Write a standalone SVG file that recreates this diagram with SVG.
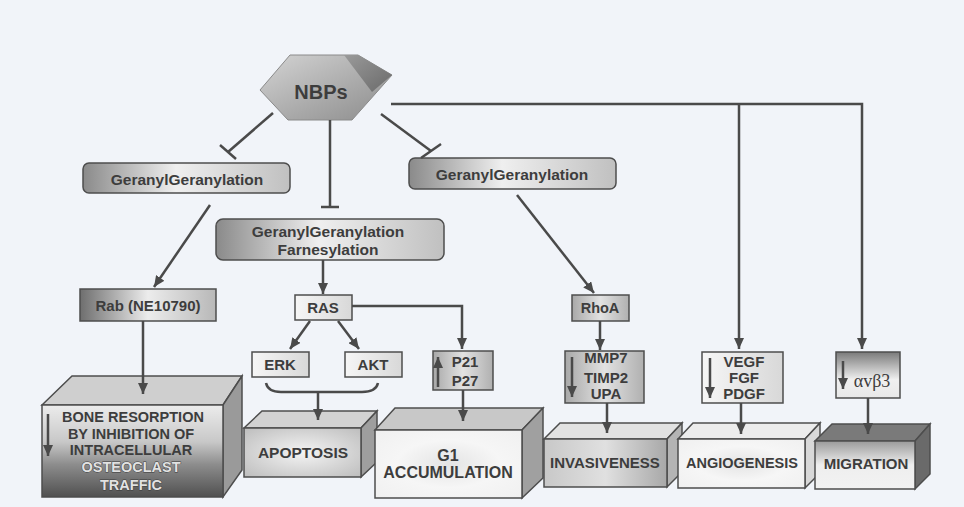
<svg xmlns="http://www.w3.org/2000/svg" width="964" height="507" viewBox="0 0 964 507">
<defs>
<style>
.c{stroke:#4a4a4a;stroke-width:2.5;fill:none}
.a{marker-end:url(#ah)}
.t{font-family:"Liberation Sans",Arial,sans-serif;font-weight:bold;fill:#3d3d3d;text-anchor:middle}
.bx{stroke:#4d4d4d;stroke-width:1.5}
.lt{fill:#e2e2e2;stroke:#3a3a3a;stroke-width:0.9;paint-order:stroke}
</style>
<marker id="ah" markerUnits="userSpaceOnUse" markerWidth="12" markerHeight="10" refX="11" refY="5" orient="auto">
<path d="M0,0 L11,5 L0,10 z" fill="#4a4a4a"/>
</marker>
<linearGradient id="gGG" x1="0" y1="0" x2="1" y2="0">
<stop offset="0" stop-color="#8a8a8a"/><stop offset="0.45" stop-color="#efefef"/><stop offset="1" stop-color="#c0c0c0"/>
</linearGradient>
<linearGradient id="gDark" x1="0" y1="0" x2="1" y2="0">
<stop offset="0" stop-color="#6e6e6e"/><stop offset="0.5" stop-color="#ececec"/><stop offset="1" stop-color="#b8b8b8"/>
</linearGradient>
<linearGradient id="gLight" x1="0" y1="0" x2="1" y2="0">
<stop offset="0" stop-color="#f6f6f6"/><stop offset="1" stop-color="#d8d8d8"/>
</linearGradient>
<linearGradient id="gMid" x1="0" y1="0" x2="1" y2="0">
<stop offset="0" stop-color="#a8a8a8"/><stop offset="0.5" stop-color="#e2e2e2"/><stop offset="1" stop-color="#b0b0b0"/>
</linearGradient>
<linearGradient id="gAvb" x1="0" y1="0" x2="0" y2="1">
<stop offset="0" stop-color="#7a7a7a"/><stop offset="0.6" stop-color="#f0f0f0"/><stop offset="1" stop-color="#e8e8e8"/>
</linearGradient>
<linearGradient id="gHex" x1="0" y1="0" x2="1" y2="1">
<stop offset="0" stop-color="#d4d4d4"/><stop offset="0.6" stop-color="#a8a8a8"/><stop offset="1" stop-color="#8c8c8c"/>
</linearGradient>
<linearGradient id="gHexSide" x1="0" y1="0" x2="1" y2="1">
<stop offset="0" stop-color="#9a9a9a"/><stop offset="1" stop-color="#6a6a6a"/>
</linearGradient>
<linearGradient id="gBone" x1="0" y1="0" x2="0" y2="1">
<stop offset="0" stop-color="#ececec"/><stop offset="0.4" stop-color="#c8c8c8"/><stop offset="0.65" stop-color="#8c8c8c"/><stop offset="1" stop-color="#505050"/>
</linearGradient>
<radialGradient id="gFront" cx="0.5" cy="0.5" r="0.7">
<stop offset="0" stop-color="#f4f4f4"/><stop offset="1" stop-color="#bdbdbd"/>
</radialGradient>
<radialGradient id="gWhite" cx="0.5" cy="0.5" r="0.7">
<stop offset="0" stop-color="#e4e4e4"/><stop offset="0.5" stop-color="#f6f6f6"/><stop offset="1" stop-color="#f0f0f0"/>
</radialGradient>
<linearGradient id="gInv" x1="0" y1="0" x2="1" y2="0">
<stop offset="0" stop-color="#c8c8c8"/><stop offset="0.5" stop-color="#e0e0e0"/><stop offset="1" stop-color="#a8a8a8"/>
</linearGradient>
<linearGradient id="gMig" x1="0" y1="0" x2="0" y2="1">
<stop offset="0" stop-color="#9a9a9a"/><stop offset="0.5" stop-color="#eeeeee"/><stop offset="1" stop-color="#f2f2f2"/>
</linearGradient>
</defs>

<rect x="0" y="0" width="964" height="507" fill="#f1f4f9"/>

<g id="nbps">
<polygon points="260,90 290,55 358,55 392,75 352,120 288,120" fill="url(#gHex)" stroke="#8a8a8a" stroke-width="1"/>
<polygon points="344,55 358,55 392,75 372,92" fill="url(#gHexSide)"/>
<text class="t" x="321" y="99" font-size="20">NBPs</text>
</g>

<g id="gg-left">
<rect class="bx" x="83" y="163" width="207" height="30" rx="6" fill="url(#gGG)"/>
<text class="t" x="187" y="185" font-size="15.5">GeranylGeranylation</text>
</g>

<g id="gg-center">
<rect class="bx" x="216" y="219" width="228" height="41" rx="7" fill="url(#gGG)"/>
<text class="t" x="328" y="237" font-size="15.5">GeranylGeranylation</text>
<text class="t" x="328" y="255" font-size="15.5">Farnesylation</text>
</g>

<g id="gg-right">
<rect class="bx" x="409" y="158" width="207" height="31" rx="6" fill="url(#gGG)"/>
<text class="t" x="512" y="180" font-size="15.5">GeranylGeranylation</text>
</g>

<g id="rab">
<rect class="bx" x="80" y="289" width="136" height="32" fill="url(#gDark)"/>
<text class="t" x="148" y="311" font-size="15">Rab (NE10790)</text>
</g>

<g id="ras">
<rect class="bx" x="295" y="295" width="57" height="25" fill="url(#gLight)"/>
<text class="t" x="323" y="313" font-size="15">RAS</text>
</g>

<g id="erk">
<rect class="bx" x="252" y="352" width="57" height="25" fill="url(#gLight)"/>
<text class="t" x="280" y="370" font-size="15">ERK</text>
</g>

<g id="akt">
<rect class="bx" x="345" y="352" width="57" height="25" fill="url(#gLight)"/>
<text class="t" x="373" y="370" font-size="15">AKT</text>
</g>

<g id="p21">
<rect class="bx" x="433" y="351" width="60" height="39" fill="url(#gMid)"/>
<line class="c a" x1="438" y1="387" x2="438" y2="357"/>
<text class="t" x="465" y="367" font-size="15">P21</text>
<text class="t" x="465" y="386" font-size="15">P27</text>
</g>

<g id="rhoa">
<rect class="bx" x="572" y="295" width="57" height="26" fill="url(#gMid)"/>
<text class="t" x="600" y="313" font-size="14.5">RhoA</text>
</g>

<g id="mmp">
<rect class="bx" x="565" y="351" width="79" height="52" fill="url(#gMid)"/>
<line class="c a" x1="572" y1="357" x2="572" y2="397"/>
<text class="t" x="606" y="363" font-size="15">MMP7</text>
<text class="t" x="606" y="383" font-size="15">TIMP2</text>
<text class="t" x="606" y="399" font-size="15">UPA</text>
</g>

<g id="vegf">
<rect class="bx" x="702" y="352" width="81" height="51" fill="url(#gLight)"/>
<line class="c a" x1="710" y1="358" x2="710" y2="398"/>
<text class="t" x="744" y="367" font-size="15">VEGF</text>
<text class="t" x="744" y="383" font-size="15">FGF</text>
<text class="t" x="744" y="399" font-size="15">PDGF</text>
</g>

<g id="avb3">
<rect class="bx" x="836" y="352" width="64" height="46" fill="url(#gAvb)"/>
<line class="c a" x1="843" y1="361" x2="843" y2="389"/>
<text x="872" y="387" font-size="18" text-anchor="middle" fill="#3d3d3d" font-family="'Liberation Serif','Times New Roman',serif">αvβ3</text>
</g>

<g id="bone">
<polygon class="bx" points="42,405 72,376 242,376 223,405" fill="#cfcfcf"/>
<polygon class="bx" points="223,405 242,376 242,470 223,497" fill="#9a9a9a"/>
<rect class="bx" x="42" y="405" width="181" height="92" fill="url(#gBone)"/>
<line class="c a" x1="48" y1="414" x2="48" y2="456"/>
<text class="t" x="133" y="422" font-size="14.5">BONE RESORPTION</text>
<text class="t" x="131" y="439" font-size="14.5">BY INHIBITION OF</text>
<text class="t" x="131" y="455" font-size="14.5">INTRACELLULAR</text>
<text class="t lt" x="131" y="472" font-size="14.5">OSTEOCLAST</text>
<text class="t lt" x="131" y="490" font-size="14.5">TRAFFIC</text>
</g>

<g id="apoptosis">
<polygon class="bx" points="244,428 262,411 377,411 361,428" fill="#d2d2d2"/>
<polygon class="bx" points="361,428 377,411 377,462 361,477" fill="#9e9e9e"/>
<rect class="bx" x="244" y="428" width="117" height="49" fill="url(#gFront)"/>
<text class="t" x="303" y="458" font-size="15.5">APOPTOSIS</text>
</g>

<g id="g1">
<polygon class="bx" points="375,430 395,408 543,408 522,430" fill="#c8c8c8"/>
<polygon class="bx" points="522,430 543,408 543,478 522,498" fill="#a0a0a0"/>
<rect class="bx" x="375" y="430" width="147" height="68" fill="url(#gWhite)"/>
<text class="t" x="448" y="461" font-size="16">G1</text>
<text class="t" x="448" y="478" font-size="16">ACCUMULATION</text>
</g>

<g id="invasiveness">
<polygon class="bx" points="544,439 560,423 682,423 667,439" fill="#e2e2e2"/>
<polygon class="bx" points="667,439 682,423 682,472 667,487" fill="#b4b4b4"/>
<rect class="bx" x="544" y="439" width="123" height="48" fill="url(#gInv)"/>
<text class="t" x="605" y="468" font-size="15">INVASIVENESS</text>
</g>

<g id="angiogenesis">
<polygon class="bx" points="678,439 693,423 820,423 805,439" fill="#ececec"/>
<polygon class="bx" points="805,439 820,423 820,473 805,488" fill="#d8d8d8"/>
<rect class="bx" x="678" y="439" width="127" height="49" fill="url(#gWhite)"/>
<text class="t" x="742" y="468" font-size="14.5">ANGIOGENESIS</text>
</g>

<g id="migration">
<polygon class="bx" points="815,441 832,424 930,424 915,441" fill="#7a7a7a"/>
<polygon class="bx" points="915,441 930,424 930,474 915,489" fill="#6a6a6a"/>
<rect class="bx" x="815" y="441" width="100" height="48" fill="url(#gMig)"/>
<text class="t" x="866" y="469" font-size="15">MIGRATION</text>
</g>

<g id="connectors">
<line class="c" x1="273" y1="113" x2="228" y2="152"/>
<line class="c" x1="220" y1="145" x2="236" y2="159"/>
<line class="c" x1="330" y1="120" x2="330" y2="207"/>
<line class="c" x1="321" y1="207" x2="339" y2="207"/>
<line class="c" x1="381" y1="114" x2="431" y2="151"/>
<line class="c" x1="421" y1="158" x2="441" y2="144"/>
<polyline class="c a" points="391,104 862,104 862,349"/>
<line class="c a" x1="739" y1="104" x2="739" y2="349"/>
<line class="c a" x1="210" y1="205" x2="154" y2="287"/>
<line class="c a" x1="143" y1="321" x2="143" y2="394"/>
<line class="c a" x1="323" y1="260" x2="323" y2="294"/>
<line class="c a" x1="310" y1="321" x2="290" y2="349"/>
<line class="c a" x1="338" y1="321" x2="359" y2="349"/>
<polyline class="c a" points="352,306 462,306 462,349"/>
<path class="c" d="M266,383 Q268,392 281,392 L362,392 Q376,392 378,383"/>
<line class="c a" x1="318" y1="392" x2="318" y2="420"/>
<line class="c a" x1="463" y1="390" x2="463" y2="421"/>
<line class="c a" x1="517" y1="195" x2="594" y2="293"/>
<line class="c a" x1="600" y1="321" x2="600" y2="350"/>
<line class="c a" x1="607" y1="403" x2="607" y2="433"/>
<line class="c a" x1="741" y1="403" x2="741" y2="434"/>
<line class="c a" x1="868" y1="398" x2="868" y2="434"/>
</g>
</svg>
